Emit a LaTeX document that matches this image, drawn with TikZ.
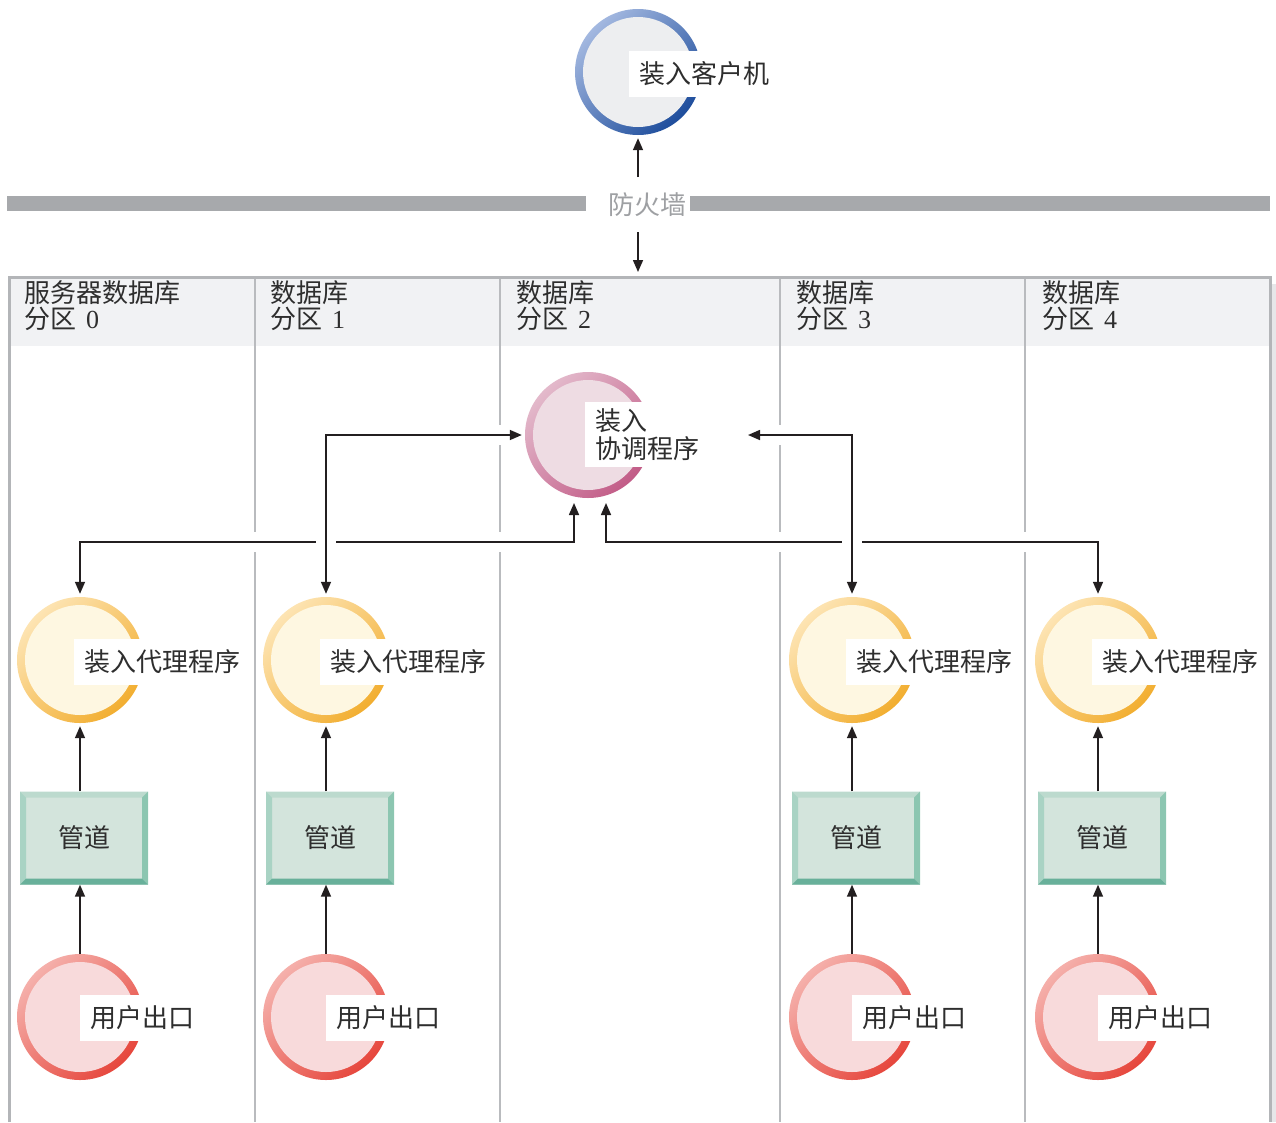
\documentclass[tikz,border=0pt]{standalone}
\usepackage{fontspec}
\setmainfont{Noto Sans CJK SC}
\newfontfamily\lat{Liberation Serif}
\usetikzlibrary{arrows.meta,calc,backgrounds}
\definecolor{txtc}{HTML}{2E2E2E}
\definecolor{linec}{HTML}{231F20}
\definecolor{fwbar}{HTML}{A7A9AC}
\definecolor{fwtxt}{HTML}{9EA0A3}
\definecolor{border}{HTML}{B3B5B8}
\definecolor{colline}{HTML}{B9BBBE}
\definecolor{headfill}{HTML}{F1F2F4}
\definecolor{shadow}{HTML}{E6E7E9}
\definecolor{cla}{HTML}{A3B8E0}
\definecolor{clb}{HTML}{1E4D9C}
\definecolor{clin}{HTML}{EDEEF0}
\definecolor{coa}{HTML}{E3B9CB}
\definecolor{cob}{HTML}{C25C87}
\definecolor{coin}{HTML}{EEDCE3}
\definecolor{aga}{HTML}{FDE4B3}
\definecolor{agb}{HTML}{F2AE30}
\definecolor{agin}{HTML}{FEF7E1}
\definecolor{exa}{HTML}{F5B0AB}
\definecolor{exb}{HTML}{E6463C}
\definecolor{exin}{HTML}{F8DADB}
\definecolor{pfill}{HTML}{D3E4DC}
\definecolor{ptop}{HTML}{BCDACE}
\definecolor{pleft}{HTML}{A9D3C4}
\definecolor{pright}{HTML}{8CC6B1}
\definecolor{pbot}{HTML}{68B09A}
\begin{document}
\begin{tikzpicture}[x=1pt,y=1pt,
  txt/.style={font=\fontsize{26}{26}\selectfont, text=txtc, inner sep=0pt},
  ringnode/.style n args={3}{circle, minimum size=126pt, inner sep=0pt,
    top color=#1, bottom color=#2, shading angle=45,
    path picture={\fill[#3] (path picture bounding box.center) circle (55pt);}},
  lbl/.style={fill=white, anchor=west, inner xsep=10pt, inner ysep=0pt,
    minimum height=46pt, font=\fontsize{26}{26}\selectfont, text=txtc},
  pipebox/.style={rectangle, minimum width=128pt, minimum height=93pt, inner sep=0pt,
    fill=pfill, font=\fontsize{26}{26}\selectfont, text=txtc,
    path picture={
      \coordinate (nw) at (path picture bounding box.north west);
      \coordinate (ne) at (path picture bounding box.north east);
      \coordinate (sw) at (path picture bounding box.south west);
      \coordinate (se) at (path picture bounding box.south east);
      \fill[ptop] (nw) -- (ne) -- ($(ne)+(-6pt,-6pt)$) -- ($(nw)+(6pt,-6pt)$) -- cycle;
      \fill[pleft] (nw) -- ($(nw)+(6pt,-6pt)$) -- ($(sw)+(6pt,6pt)$) -- (sw) -- cycle;
      \fill[pright] (ne) -- ($(ne)+(-6pt,-6pt)$) -- ($(se)+(-6pt,6pt)$) -- (se) -- cycle;
      \fill[pbot] (sw) -- ($(sw)+(6pt,6pt)$) -- ($(se)+(-6pt,6pt)$) -- (se) -- cycle;
    }},
  arr/.style={line width=1.6pt, draw=linec, -{Triangle[length=12pt,width=10pt]}, shorten >=3pt},
  darr/.style={line width=1.6pt, draw=linec,
    {Triangle[length=12pt,width=10pt]}-{Triangle[length=12pt,width=10pt]},
    shorten >=3pt, shorten <=3pt},
  halo/.style={preaction={draw=white, line width=20pt, -, shorten >=0pt, shorten <=0pt}}
]
\useasboundingbox (0,0) rectangle (1276,-1122);

% client
\node[ringnode={cla}{clb}{clin}] (client) at (638,-72) {};
\node[lbl] (clientlbl) at (629,-74) {装入客户机};

% firewall
\node[txt, text=fwtxt] (fw) at (647,-205) {防火墙};
\fill[fwbar] (7,-196) rectangle (586,-211);
\fill[fwbar] (690,-196) rectangle (1270,-211);
\coordinate (fwup) at (638,-177);
\coordinate (fwdn) at (638,-232);
\coordinate (boxin) at (638,-275);
\draw[arr] (fwup) -- (client.south);
\draw[arr] (fwdn) -- (boxin);

% headers
\node[txt, align=left, anchor=north west] (h0) at (24,-280) {服务器数据库\\分区\hspace{10pt}{\lat 0}};
\node[txt, align=left, anchor=north west] (h1) at (270,-280) {数据库\\分区\hspace{10pt}{\lat 1}};
\node[txt, align=left, anchor=north west] (h2) at (516,-280) {数据库\\分区\hspace{10pt}{\lat 2}};
\node[txt, align=left, anchor=north west] (h3) at (796,-280) {数据库\\分区\hspace{10pt}{\lat 3}};
\node[txt, align=left, anchor=north west] (h4) at (1042,-280) {数据库\\分区\hspace{10pt}{\lat 4}};

% coordinator
\node[ringnode={coa}{cob}{coin}] (coord) at (588,-435) {};
\node[lbl, align=left, minimum height=65pt, text depth=0pt] (coordlbl) at (585,-434) {\raisebox{2pt}{装入}\\协调程序};

% columns
\foreach \i/\x in {0/80,1/326,2/852,3/1098}{
  \node[ringnode={aga}{agb}{agin}] (agent\i) at (\x,-660) {};
  \node[lbl] (agentlbl\i) at ({\x-6},-662) {装入代理程序};
  \node[pipebox] (pipe\i) at ({\x+4},-838) {管道};
  \node[ringnode={exa}{exb}{exin}] (exit\i) at (\x,-1017) {};
  \node[lbl] (exitlbl\i) at (\x,-1018) {用户出口};
  \draw[arr] (agent\i.south |- pipe\i.north) -- (agent\i.south);
  \draw[arr, shorten >=0pt] (exit\i.north) -- (exit\i.north |- pipe\i.south);
}

\coordinate (cinL) at (574,-500);
\coordinate (cinR) at (606,-500);
\coordinate (jL) at (574,-542);
\coordinate (jR) at (606,-542);
\coordinate (cdR) at (745,-435);

\begin{scope}[on background layer]
  \fill[headfill] (9,-277) rectangle (1270,-346);
  \fill[shadow] (1271,-284) rectangle (1276,-1122);
  \foreach \cx in {255,500,780,1025}
    \draw[colline, line width=2.5pt] (\cx,-277) -- (\cx,-1122);
  \draw[border, line width=3pt] (9,-1122) -- (9,-277) -- (1270,-277) -- (1270,-1122);
  \draw[darr, halo] (agent0.north) |- (jL) -- (cinL);
  \draw[darr, halo] (cinR) -- (jR) -| (agent3.north);
  \draw[darr, halo] (agent1.north) |- (coord.west);
  \draw[darr, halo] (cdR) -| (agent2.north);
\end{scope}
\end{tikzpicture}
\end{document}
